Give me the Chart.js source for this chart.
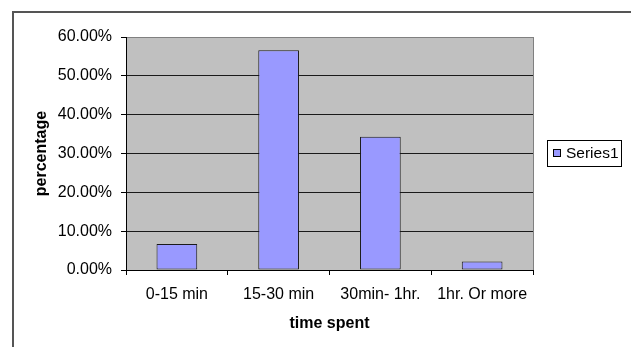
<!DOCTYPE html>
<html>
<head>
<meta charset="utf-8">
<script src="https://cdn.jsdelivr.net/npm/chart.js@4"></script>
<style>
  html, body { margin: 0; padding: 0; background: #ffffff; }
  #wrap { width: 631px; height: 347px; position: relative; }
</style>
</head>
<body>
<div id="wrap"><canvas id="c" width="631" height="347"></canvas></div>
<script>
// Share of respondents by time spent (percent)
const categories = ['0-15 min', '15-30 min', '30min- 1hr.', '1hr. Or more'];
const seriesName = 'Series1';
const seriesValues = [6.7, 56.6, 34.3, 2.2];
const yTickMax = 60;
const yTickStep = 10;

const FONT = "'Liberation Sans', Arial, sans-serif";

// Outer frame, plot background, plot border and legend box
const decorations = {
  id: 'decorations',
  beforeDraw(chart) {
    const { ctx, chartArea: a } = chart;
    ctx.save();
    ctx.fillStyle = '#ffffff';
    ctx.fillRect(0, 0, chart.width, chart.height);
    // frame
    ctx.strokeStyle = '#555555';
    ctx.lineWidth = 2;
    ctx.beginPath();
    ctx.moveTo(13, chart.height + 2);
    ctx.lineTo(13, 12);
    ctx.lineTo(chart.width + 2, 12);
    ctx.stroke();
    // plot background
    ctx.fillStyle = '#c0c0c0';
    ctx.fillRect(a.left, a.top, a.right - a.left, a.bottom - a.top);
    // right border of plot area
    ctx.strokeStyle = '#808080';
    ctx.lineWidth = 1;
    ctx.beginPath();
    ctx.moveTo(Math.round(a.right) + 0.5, a.top);
    ctx.lineTo(Math.round(a.right) + 0.5, a.bottom);
    ctx.stroke();
    ctx.restore();
  },
  afterDraw(chart) {
    const { ctx } = chart;
    const ds = chart.data.datasets[0];
    ctx.save();
    // legend box
    const bx = 547.5, by = 140.5, bw = 74, bh = 26;
    ctx.fillStyle = '#ffffff';
    ctx.fillRect(bx, by, bw, bh);
    ctx.strokeStyle = '#000000';
    ctx.lineWidth = 1;
    ctx.strokeRect(bx, by, bw, bh);
    // swatch
    ctx.fillStyle = ds.backgroundColor;
    ctx.fillRect(553.5, 149.5, 7, 7);
    ctx.strokeStyle = '#000000';
    ctx.strokeRect(553.5, 149.5, 7, 7);
    // label
    ctx.fillStyle = '#000000';
    ctx.font = '15.5px ' + FONT;
    ctx.textBaseline = 'middle';
    ctx.textAlign = 'left';
    ctx.fillText(ds.label, 566, 154);
    ctx.restore();
  }
};

new Chart(document.getElementById('c'), {
  type: 'bar',
  data: {
    labels: categories,
    datasets: [{
      label: seriesName,
      data: seriesValues,
      backgroundColor: '#9999ff',
      borderColor: '#1a1a1a',
      borderWidth: 1,
      borderSkipped: false,
      categoryPercentage: 1.0,
      barPercentage: 0.4
    }]
  },
  options: {
    responsive: false,
    animation: false,
    devicePixelRatio: 1,
    layout: { padding: { left: 0, top: 37, right: 98, bottom: 0 } },
    plugins: {
      legend: { display: false },
      tooltip: { enabled: false }
    },
    scales: {
      x: {
        afterFit(scale) { scale.height = 77; },
        grid: {
          offset: true,
          drawOnChartArea: false,
          drawTicks: true,
          tickLength: 5,
          tickColor: '#000000',
          color: '#000000'
        },
        border: { display: true, color: '#000000', width: 1 },
        ticks: {
          color: '#000000',
          font: { family: FONT, size: 16 },
          padding: 10,
          maxRotation: 0,
          autoSkip: false
        },
        title: {
          display: true,
          text: 'time spent',
          color: '#000000',
          font: { family: FONT, size: 16, weight: 'bold' },
          padding: { top: 0, bottom: 14 }
        }
      },
      y: {
        min: 0,
        max: yTickMax,
        afterFit(scale) { scale.width = 126; },
        grid: {
          color: (c) => (c.tick && c.tick.value === yTickMax ? '#808080' : '#1a1a1a'),
          tickColor: '#000000',
          tickLength: 5,
          lineWidth: 1
        },
        border: { display: true, color: '#000000', width: 1 },
        ticks: {
          stepSize: yTickStep,
          color: '#000000',
          font: { family: FONT, size: 16 },
          padding: 9,
          callback: (v) => v.toFixed(2) + '%'
        },
        title: {
          display: true,
          text: 'percentage',
          color: '#000000',
          font: { family: FONT, size: 16, weight: 'bold' },
          padding: { top: 32, bottom: 0 }
        }
      }
    }
  },
  plugins: [decorations]
});
</script>
</body>
</html>
